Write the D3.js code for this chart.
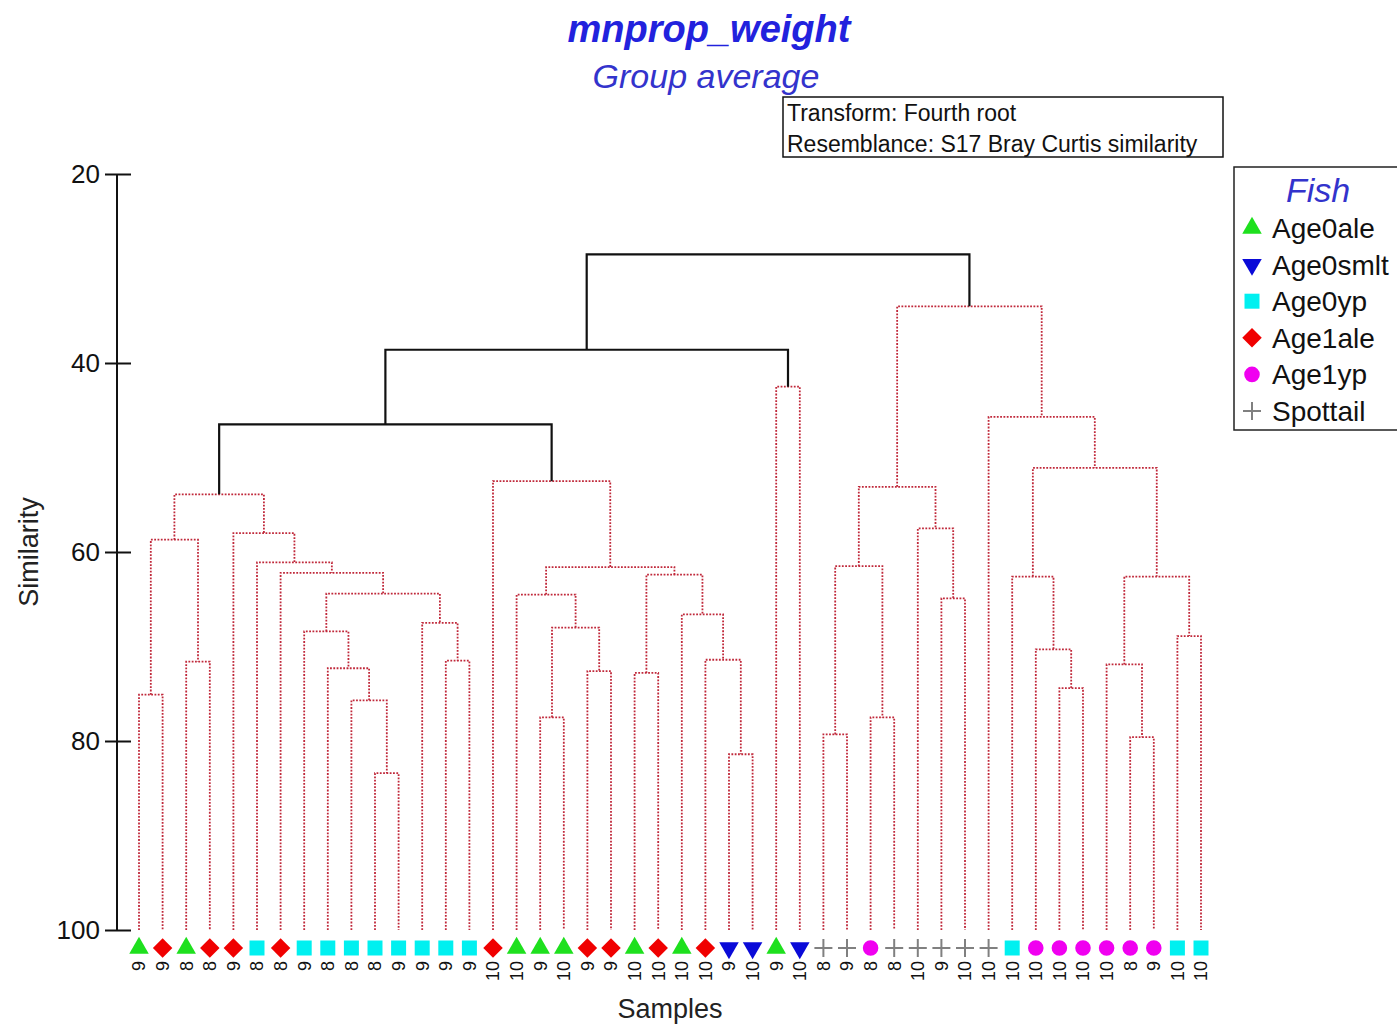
<!DOCTYPE html>
<html lang="en">
<head>
<meta charset="UTF-8">
<title>mnprop_weight dendrogram</title>
<script src="https://d3js.org/d3.v7.min.js"></script>
<style>
  body { margin: 0; background: #fff; }
  text { font-family: "Liberation Sans", Arial, sans-serif; }
</style>
</head>
<body>
<div id="chart"></div>
<script>
// sample groups, in dendrogram leaf order
var groups = ["Age0ale", "Age0smlt", "Age0yp", "Age1ale", "Age1yp", "Spottail"];
var leafGroup = [
  "Age0ale", "Age1ale", "Age0ale", "Age1ale", "Age1ale", "Age0yp", "Age1ale", "Age0yp",
  "Age0yp", "Age0yp", "Age0yp", "Age0yp", "Age0yp", "Age0yp", "Age0yp",
  "Age1ale", "Age0ale", "Age0ale", "Age0ale", "Age1ale", "Age1ale", "Age0ale", "Age1ale",
  "Age0ale", "Age1ale", "Age0smlt", "Age0smlt", "Age0ale", "Age0smlt",
  "Spottail", "Spottail", "Age1yp", "Spottail", "Spottail", "Spottail", "Spottail", "Spottail",
  "Age0yp", "Age1yp", "Age1yp", "Age1yp", "Age1yp", "Age1yp", "Age1yp", "Age0yp", "Age0yp"
];
var leafLabel = [
  9, 9, 8, 8, 9, 8, 8, 9, 8, 8, 8, 9, 9, 9, 9,
  10, 10, 9, 10, 9, 9, 10, 10, 10, 10, 9, 10, 9, 10,
  8, 9, 8, 8, 10, 9, 10, 10, 10, 10, 10, 10, 10, 8, 9, 10, 10
];
// merges: [child a, child b, similarity]; ids < 46 are leaves, 46 + k is merge k
var merges = [
  [0, 1, 75.1], [2, 3, 71.6], [46, 47, 58.7], [10, 11, 83.4], [9, 49, 75.7],
  [8, 50, 72.3], [7, 51, 68.4], [13, 14, 71.5], [12, 53, 67.5], [52, 54, 64.4],
  [6, 55, 62.2], [5, 56, 61.1], [4, 57, 58.0], [48, 58, 53.9],
  [17, 18, 77.5], [19, 20, 72.6], [60, 61, 68.0], [16, 62, 64.5], [21, 22, 72.8],
  [25, 26, 81.4], [24, 65, 71.4], [23, 66, 66.6], [64, 67, 62.4], [63, 68, 61.6],
  [15, 69, 52.5],
  [59, 70, 46.5], [27, 28, 42.5], [71, 72, 38.6],
  [29, 30, 79.3], [31, 32, 77.5], [74, 75, 61.5], [34, 35, 64.9], [33, 77, 57.5],
  [76, 78, 53.1], [39, 40, 74.4], [38, 80, 70.3], [37, 81, 62.6], [42, 43, 79.6],
  [41, 83, 71.9], [44, 45, 68.9], [84, 85, 62.6], [82, 86, 51.1], [36, 87, 45.7],
  [79, 88, 34.0], [73, 89, 28.5]
];
// merges drawn solid (the rest are dotted)
var solidMerges = [25, 27, 44];
var yTicks = [20, 40, 60, 80, 100];

var W = 1397, H = 1025;
var svg = d3.select("#chart").append("svg").attr("width", W).attr("height", H);

var nLeaf = leafGroup.length;
var x = d3.scalePoint().domain(d3.range(nLeaf)).range([139, 1201]);
var y = d3.scaleLinear().domain([20, 100]).range([174, 930]);

var color = d3.scaleOrdinal().domain(groups)
  .range(["#1ee01e", "#0a0ad8", "#00f0f0", "#f00000", "#f000f0", "#808080"]);

// node positions
var nodeX = [], nodeS = [];
d3.range(nLeaf).forEach(function (i) { nodeX[i] = x(i); nodeS[i] = 100; });
merges.forEach(function (m, k) {
  var id = nLeaf + k;
  nodeX[id] = (nodeX[m[0]] + nodeX[m[1]]) / 2;
  nodeS[id] = m[2];
});

var tree = svg.append("g");
tree.selectAll("path")
  .data(merges)
  .enter().append("path")
  .attr("d", function (m) {
    var a = m[0], b = m[1];
    return "M" + nodeX[a] + "," + y(nodeS[a]) + "V" + y(m[2]) +
      "H" + nodeX[b] + "V" + y(nodeS[b]);
  })
  .attr("fill", "none")
  .each(function (m, k) {
    var p = d3.select(this);
    if (solidMerges.indexOf(k) >= 0) {
      p.attr("stroke", "#111").attr("stroke-width", 2.2);
    } else {
      p.attr("stroke", "#c0283a").attr("stroke-width", 1.8).attr("stroke-dasharray", "1.8 1.5");
    }
  });

// y axis
var axis = svg.append("g").attr("transform", "translate(131,0)")
  .call(d3.axisLeft(y).tickValues(yTicks).tickSize(26).tickPadding(5));
axis.select(".domain").remove();
axis.selectAll(".tick line").attr("stroke", "#111").attr("stroke-width", 2);
axis.selectAll(".tick text").attr("font-size", 26).attr("fill", "#111")
  .attr("font-family", "Liberation Sans, Arial, sans-serif");
svg.append("line")
  .attr("x1", 117).attr("x2", 117).attr("y1", y(20)).attr("y2", y(100))
  .attr("stroke", "#111").attr("stroke-width", 2);

// markers
function marker(sel, g) {
  var c = color(g);
  if (g === "Spottail") {
    sel.append("path").attr("d", "M-9,0H9M0,-9V9").attr("stroke", c).attr("stroke-width", 2).attr("fill", "none");
  } else if (g === "Age0ale") {
    sel.append("path").attr("d", d3.symbol().type(d3.symbolTriangle).size(165)()).attr("fill", c);
  } else if (g === "Age0smlt") {
    sel.append("path").attr("d", d3.symbol().type(d3.symbolTriangle).size(165)())
      .attr("transform", "rotate(180)").attr("fill", c);
  } else if (g === "Age0yp") {
    sel.append("path").attr("d", d3.symbol().type(d3.symbolSquare).size(225)()).attr("fill", c);
  } else if (g === "Age1ale") {
    sel.append("path").attr("d", d3.symbol().type(d3.symbolSquare).size(190)())
      .attr("transform", "rotate(45)").attr("fill", c);
  } else {
    sel.append("path").attr("d", d3.symbol().type(d3.symbolCircle).size(190)()).attr("fill", c);
  }
}

svg.append("g").selectAll("g")
  .data(leafGroup)
  .enter().append("g")
  .attr("transform", function (d, i) { return "translate(" + x(i) + ",948)"; })
  .each(function (d) { marker(d3.select(this), d); });

svg.append("g").selectAll("text")
  .data(leafLabel)
  .enter().append("text")
  .attr("transform", function (d, i) { return "translate(" + x(i) + ",961) rotate(-90)"; })
  .attr("text-anchor", "end")
  .attr("dy", "0.36em")
  .attr("font-size", 18)
  .attr("fill", "#111")
  .text(function (d) { return d; });

// axis titles
svg.append("text")
  .attr("transform", "translate(38,552) rotate(-90)")
  .attr("text-anchor", "middle")
  .attr("font-size", 27).attr("fill", "#222")
  .text("Similarity");
svg.append("text")
  .attr("x", 670).attr("y", 1018)
  .attr("text-anchor", "middle")
  .attr("font-size", 27).attr("fill", "#222")
  .text("Samples");

// titles
svg.append("text")
  .attr("x", 709).attr("y", 42)
  .attr("text-anchor", "middle")
  .attr("font-size", 38).attr("font-weight", "bold").attr("font-style", "italic")
  .attr("fill", "#2222dd")
  .text("mnprop_weight");
svg.append("text")
  .attr("x", 706).attr("y", 88)
  .attr("text-anchor", "middle")
  .attr("font-size", 34).attr("font-style", "italic")
  .attr("fill", "#3333cc")
  .text("Group average");

// info box
svg.append("rect")
  .attr("x", 783).attr("y", 97).attr("width", 440).attr("height", 60)
  .attr("fill", "none").attr("stroke", "#111").attr("stroke-width", 1.5);
svg.append("text").attr("x", 787).attr("y", 121)
  .attr("font-size", 23).attr("fill", "#111").text("Transform: Fourth root");
svg.append("text").attr("x", 787).attr("y", 152)
  .attr("font-size", 23).attr("fill", "#111").text("Resemblance: S17 Bray Curtis similarity");

// legend
var legend = svg.append("g");
legend.append("rect")
  .attr("x", 1234).attr("y", 167).attr("width", 200).attr("height", 263)
  .attr("fill", "none").attr("stroke", "#222").attr("stroke-width", 1.5);
legend.append("text")
  .attr("x", 1318).attr("y", 202)
  .attr("text-anchor", "middle")
  .attr("font-size", 34).attr("font-style", "italic").attr("fill", "#3333cc")
  .text("Fish");
var item = legend.selectAll(".item")
  .data(groups)
  .enter().append("g")
  .attr("class", "item")
  .attr("transform", function (d, i) { return "translate(1252," + (228 + i * 36.6) + ")"; });
item.each(function (d) { marker(d3.select(this), d); });
item.append("text")
  .attr("x", 20).attr("dy", "0.36em")
  .attr("font-size", 28).attr("fill", "#111")
  .text(function (d) { return d; });
</script>
</body>
</html>
